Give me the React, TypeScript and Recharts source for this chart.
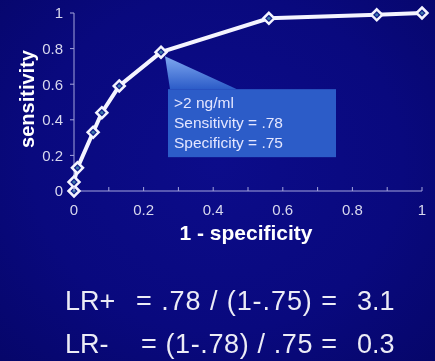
import React from 'react'
import { LineChart, Line, XAxis, YAxis, ReferenceDot } from 'recharts'

// ROC curve points
const falsePositiveRate = [0, 0, 0.01, 0.055, 0.08, 0.13, 0.25, 0.56, 0.87, 1]
const sensitivity = [0, 0.05, 0.13, 0.33, 0.44, 0.59, 0.78, 0.97, 0.99, 1]

const xTicks = [0, 0.1, 0.2, 0.3, 0.4, 0.5, 0.6, 0.7, 0.8, 0.9, 1]
const xLabelled = [0, 0.2, 0.4, 0.6, 0.8, 1]
const yTicks = [0, 0.2, 0.4, 0.6, 0.8, 1]

const cutoff = { x: 0.25, y: 0.78 }
const calloutLines = ['>2 ng/ml', 'Sensitivity = .78', 'Specificity = .75']

const data = falsePositiveRate.map((x, i) => ({ x, y: sensitivity[i] }))

const FONT = 'Arial, "Liberation Sans", sans-serif'
const AXIS = '#a4a4dc'
const LABEL = '#d8d8ee'

// diamond marker, white outline with a dark centre
const Diamond = ({ cx, cy }: any) => {
  if (cx == null || cy == null) return null
  const r = 5.5
  return (
    <g>
      <polygon
        points={`${cx},${cy - r} ${cx + r},${cy} ${cx},${cy + r} ${cx - r},${cy}`}
        fill="#12208a"
        stroke="#f4f4ff"
        strokeWidth={2.5}
      />
      <circle cx={cx} cy={cy} r={1.6} fill="#3c78a8" />
    </g>
  )
}

const XTick = ({ x, y, payload }: any) => {
  const v = payload.value
  const showLabel = xLabelled.some((t) => Math.abs(t - v) < 1e-6)
  return (
    <g>
      <line x1={x} y1={y - 4} x2={x} y2={y} stroke={AXIS} strokeWidth={1} />
      {showLabel && (
        <text x={x} y={y + 24} textAnchor="middle" fill={LABEL} fontSize={15} fontFamily={FONT}>
          {String(v)}
        </text>
      )}
    </g>
  )
}

// callout box hanging off the >2 ng/ml point
const Callout = ({ cx, cy }: any) => {
  if (cx == null || cy == null) return null
  const bx = cx + 7
  const by = cy + 37
  return (
    <g>
      <defs>
        <linearGradient id="pointer" x1="0" y1="0" x2="0" y2="1">
          <stop offset="0%" stopColor="#7fa8f0" />
          <stop offset="100%" stopColor="#2c5cc8" />
        </linearGradient>
      </defs>
      <polygon
        points={`${cx + 4},${cy + 4} ${bx + 2},${by} ${cx + 76},${by}`}
        fill="url(#pointer)"
      />
      <rect x={bx} y={by} width={168} height={68} fill="#2c5cc8" />
      {calloutLines.map((t, i) => (
        <text
          key={t}
          x={bx + 6}
          y={by + 19 + i * 20}
          fill="#e4e6ff"
          fontSize={15.5}
          fontFamily={FONT}
        >
          {t}
        </text>
      ))}
    </g>
  )
}

export default function App() {
  return (
    <div
      style={{
        position: 'fixed',
        left: 0,
        top: 0,
        width: 435,
        height: 361,
        overflow: 'hidden',
        background: 'radial-gradient(ellipse at 50% 45%, #0c0c8a 0%, #09097e 60%, #06066a 100%)',
      }}
    >
      <LineChart
        width={435}
        height={361}
        data={data}
        margin={{ top: 13, right: 13, left: 34, bottom: 140 }}
      >
        <XAxis
          type="number"
          dataKey="x"
          domain={[0, 1]}
          ticks={xTicks}
          interval={0}
          height={30}
          stroke={AXIS}
          tickLine={false}
          tickSize={0}
          tickMargin={0}
          tick={<XTick />}
        />
        <YAxis
          type="number"
          domain={[0, 1]}
          ticks={yTicks}
          interval={0}
          width={40}
          stroke={AXIS}
          tickSize={4}
          tickMargin={7}
          tick={{ fill: LABEL, fontSize: 15, fontFamily: FONT }}
        />
        <ReferenceDot x={cutoff.x} y={cutoff.y} r={0} shape={<Callout />} />
        <Line
          dataKey="y"
          type="linear"
          stroke="#f4f4ff"
          strokeWidth={4}
          dot={<Diamond />}
          isAnimationActive={false}
        />
      </LineChart>
      <svg
        width={435}
        height={361}
        style={{ position: 'absolute', left: 0, top: 0, pointerEvents: 'none' }}
      >
        <text
          transform="translate(34,99) rotate(-90)"
          textAnchor="middle"
          fill="#ffffff"
          fontSize={20}
          fontWeight="bold"
          fontFamily={FONT}
        >
          sensitivity
        </text>
        <text x={246} y={240} textAnchor="middle" fill="#ffffff" fontSize={21} fontWeight="bold" fontFamily={FONT}>
          1 - specificity
        </text>
        <g fill="#ececf6" fontSize={27} fontFamily={FONT}>
          <text x={65} y={310}>LR+</text>
          <text x={136} y={310} textLength={201} lengthAdjust="spacing">= .78 / (1-.75) =</text>
          <text x={357} y={310}>3.1</text>
          <text x={65} y={353}>LR-</text>
          <text x={141} y={353} textLength={196} lengthAdjust="spacing">= (1-.78) / .75 =</text>
          <text x={357} y={353}>0.3</text>
        </g>
      </svg>
    </div>
  )
}
